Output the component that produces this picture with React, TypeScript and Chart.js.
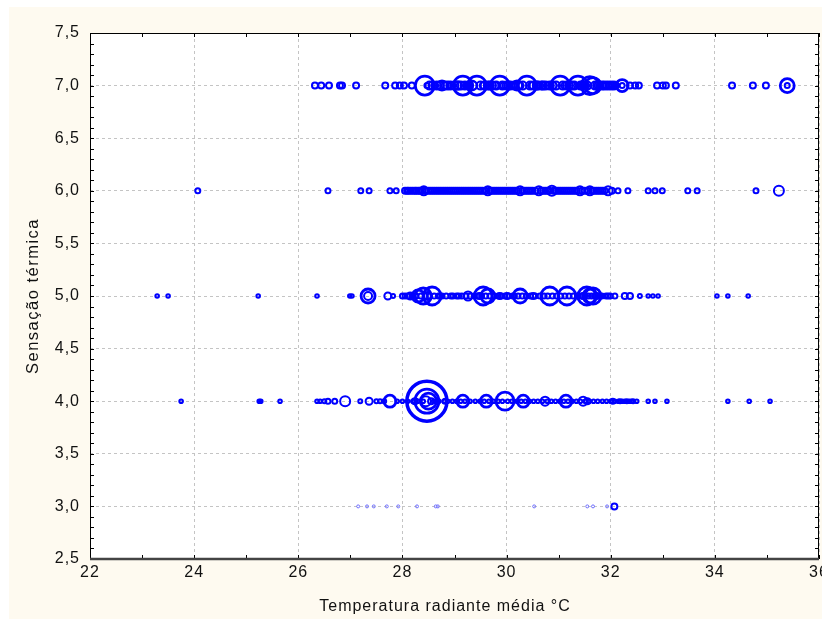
import React, { useEffect, useRef } from "react";
import { Chart, registerables } from "chart.js";

Chart.register(...registerables);

// Thermal sensation levels
const levels = [7, 6, 5, 4, 3];

// Row 7.0 : individually sized bubbles
const row7X = [26.32, 26.44, 26.59, 26.8, 26.84, 27.11, 27.67, 27.86, 27.95, 28.03, 28.18, 28.43, 28.47, 28.62, 28.76, 28.82, 28.95, 29.07, 29.16, 29.24, 29.33, 29.43, 29.55, 29.68, 29.78, 29.87, 29.95, 30.03, 30.12, 30.2, 30.26, 30.39, 30.48, 30.58, 30.64, 30.7, 30.8, 30.9, 31.03, 31.12, 31.2, 31.28, 31.37, 31.45, 31.52, 31.6, 31.66, 31.74, 31.79, 31.85, 31.91, 31.97, 32.02, 32.1, 32.22, 32.22, 32.37, 32.47, 32.54, 32.89, 33.0, 33.06, 33.25, 34.33, 34.73, 34.98, 35.39, 35.39];
const row7R = [3, 3, 3, 3, 3, 3, 3, 3, 3, 3, 3, 9.5, 2.5, 3.5, 5, 3.5, 3.5, 4, 9.5, 3.5, 5, 9.5, 3.5, 4, 3.5, 9.5, 3.5, 4, 3.5, 5, 3.5, 9.5, 3.5, 4, 3.5, 4, 3.5, 3.5, 9.5, 3.5, 4, 3.5, 9.5, 4, 3.5, 9, 8, 4, 3.5, 3.5, 3.5, 3.5, 3.5, 3, 6, 2.5, 3, 3, 3, 3, 3, 3, 3, 3, 3, 3, 7, 2.5];
// Row 7.0 : dense band of small bubbles
const row7BandX = [28.52, 28.58, 28.66, 28.72, 28.8, 28.86, 28.92, 29.0, 29.05, 29.12, 29.2, 29.28, 29.36, 29.5, 29.58, 29.64, 29.72, 29.8, 29.92, 30.0, 30.07, 30.15, 30.23, 30.31, 30.45, 30.52, 30.6, 30.67, 30.75, 30.83, 30.88, 30.95, 31.08, 31.16, 31.24, 31.3, 31.42, 31.48, 31.55, 31.7, 31.77, 31.83, 31.88, 31.94, 32.0, 32.06];
const row7BandR = 4;

// Row 6.0
const row6X = [24.07, 26.57, 27.2, 27.36, 27.76, 27.88, 28.41, 29.64, 30.26, 30.62, 30.87, 31.41, 31.6, 31.95, 32.14, 32.33, 32.72, 32.85, 32.99, 33.48, 33.66, 34.79, 35.23];
const row6R = [2.5, 2.5, 2.5, 2.5, 2.5, 2.5, 4.5, 4.5, 4.5, 4.5, 5, 4.5, 4.5, 4.5, 2.5, 2.5, 2.5, 2.5, 2.5, 2.5, 2.5, 2.5, 5];
const row6BandX = [28.05, 28.09, 28.12, 28.16, 28.2, 28.24, 28.27, 28.31, 28.34, 28.38, 28.45, 28.5, 28.54, 28.58, 28.62, 28.66, 28.7, 28.74, 28.78, 28.82, 28.86, 28.9, 28.94, 28.98, 29.02, 29.06, 29.1, 29.14, 29.18, 29.22, 29.26, 29.3, 29.34, 29.38, 29.42, 29.46, 29.5, 29.54, 29.59, 29.68, 29.72, 29.76, 29.8, 29.84, 29.88, 29.92, 29.96, 30.0, 30.04, 30.08, 30.12, 30.16, 30.2, 30.3, 30.34, 30.38, 30.42, 30.46, 30.5, 30.55, 30.66, 30.7, 30.74, 30.78, 30.82, 30.91, 30.95, 30.99, 31.03, 31.07, 31.11, 31.15, 31.19, 31.23, 31.27, 31.31, 31.35, 31.45, 31.5, 31.55, 31.64, 31.68, 31.72, 31.76, 31.8, 31.84, 31.88, 32.02];
const row6BandR = 3;

// Row 5.0
const row5X = [23.29, 23.5, 25.23, 26.36, 26.99, 27.03, 27.34, 27.34, 27.72, 27.82, 28.15, 28.3, 28.4, 28.48, 28.57, 28.72, 29.26, 29.48, 29.55, 29.64, 29.87, 30.01, 30.12, 30.26, 30.51, 30.83, 31.16, 31.47, 31.54, 31.6, 31.66, 31.72, 31.79, 31.95, 32.27, 32.37, 32.56, 32.72, 32.81, 32.91, 34.04, 34.25, 34.64];
const row5R = [1.8, 1.8, 1.8, 1.8, 1.8, 1.8, 7, 4, 3.5, 2, 3.5, 6, 8, 4, 9, 2.5, 4.5, 3, 9, 7, 3, 3, 2.5, 7, 3, 9, 9, 3, 9, 7, 8, 3, 2.5, 2.5, 3, 3, 2, 1.8, 1.8, 1.8, 1.8, 1.8, 1.8];
const row5BandX = [28.0, 28.05, 28.1, 28.19, 28.26, 28.35, 28.44, 28.52, 28.61, 28.69, 28.76, 28.84, 28.93, 28.97, 29.04, 29.08, 29.14, 29.22, 29.3, 29.38, 29.45, 29.52, 29.6, 29.68, 29.76, 29.84, 29.9, 29.97, 30.04, 30.15, 30.22, 30.3, 30.38, 30.46, 30.55, 30.64, 30.72, 30.79, 30.88, 30.96, 31.04, 31.12, 31.2, 31.28, 31.36, 31.44, 31.5, 31.57, 31.63, 31.69, 31.76, 31.83, 31.91, 31.99, 32.08];
const row5BandR = 2.5;

// Row 4.0
const row4X = [23.75, 25.25, 25.28, 25.65, 26.36, 26.42, 26.5, 26.57, 26.7, 26.9, 27.19, 27.36, 27.5, 27.57, 27.65, 27.76, 28.24, 28.47, 28.47, 28.5, 28.45, 28.55, 28.82, 29.16, 29.61, 29.97, 30.32, 30.74, 31.14, 31.47, 31.55, 32.04, 32.18, 32.31, 32.43, 32.72, 32.85, 33.08, 34.25, 34.66, 35.06];
const row4R = [1.8, 1.8, 1.8, 1.8, 1.8, 1.8, 2, 2.5, 2.5, 5, 2, 3.5, 2, 2, 2, 6, 3, 20, 12, 8, 5, 3, 2.5, 6, 6, 9, 6, 4.5, 6, 4.5, 3, 2.5, 2, 2, 2, 1.8, 1.8, 1.8, 1.8, 1.8, 1.8];
const row4BandX = [27.9, 28.0, 28.1, 28.2, 28.3, 28.4, 28.6, 28.7, 28.8, 28.87, 28.96, 29.04, 29.12, 29.2, 29.3, 29.4, 29.49, 29.57, 29.66, 29.75, 29.84, 29.92, 30.02, 30.1, 30.2, 30.28, 30.36, 30.44, 30.52, 30.6, 30.69, 30.78, 30.86, 30.94, 31.02, 31.1, 31.18, 31.26, 31.34, 31.42, 31.51, 31.59, 31.67, 31.75, 31.84, 31.92, 32.0, 32.08, 32.15, 32.22, 32.27, 32.36, 32.4, 32.5];
const row4BandR = 1.8;

// Row 3.0
const row3X = [32.07];
const row3R = [3];
const row3TinyX = [27.15, 27.32, 27.45, 27.7, 27.92, 28.28, 28.64, 28.68, 30.53, 31.55, 31.66, 31.93];
const row3TinyR = 1.5;

const xTicks = [22, 24, 26, 28, 30, 32, 34, 36];
const yTicks = [2.5, 3.0, 3.5, 4.0, 4.5, 5.0, 5.5, 6.0, 6.5, 7.0, 7.5];

const xTitle = "Temperatura radiante média °C";
const yTitle = "Sensação térmica";

const BLUE = "#0000ff";
const FONT = "'Liberation Sans', Arial, sans-serif";

function toPoints(xs: number[], rs: number[] | number, y: number) {
  return xs.map((x, i) => ({ x, y, r: Array.isArray(rs) ? rs[i] : rs }));
}

const framePlugin = {
  id: "frame",
  beforeDraw(chart: any) {
    const { ctx, width, height, chartArea } = chart;
    ctx.save();
    ctx.fillStyle = "#ffffff";
    ctx.fillRect(0, 0, width, height);
    ctx.fillStyle = "#fefaf0";
    ctx.fillRect(9, 7, width - 9, height - 7);
    ctx.fillStyle = "#ffffff";
    ctx.fillRect(chartArea.left, chartArea.top, chartArea.right - chartArea.left, chartArea.bottom - chartArea.top);
    ctx.restore();
    ctx.letterSpacing = "1px";
  },
  afterDraw(chart: any) {
    const { ctx, chartArea } = chart;
    const xs = chart.scales.x;
    const ys = chart.scales.y;
    const { left, right, top, bottom } = chartArea;
    ctx.save();
    ctx.letterSpacing = "0px";
    ctx.strokeStyle = "#000";
    ctx.lineWidth = 1;
    const tl = 4;
    ctx.beginPath();
    for (let v = 22; v <= 36; v += 1) {
      const px = Math.round(xs.getPixelForValue(v)) + 0.5;
      ctx.moveTo(px, top);
      ctx.lineTo(px, top + tl);
      ctx.moveTo(px, bottom);
      ctx.lineTo(px, bottom - tl);
    }
    for (let k = 25; k <= 75; k += 1) {
      const py = Math.round(ys.getPixelForValue(k / 10)) + 0.5;
      ctx.moveTo(left, py);
      ctx.lineTo(left + tl, py);
      ctx.moveTo(right, py);
      ctx.lineTo(right - tl, py);
    }
    ctx.stroke();
    ctx.strokeRect(left + 0.5, top + 0.5, right - left - 1, bottom - top - 1);
    ctx.strokeStyle = "#444";
    ctx.lineWidth = 2.5;
    ctx.beginPath();
    ctx.moveTo(left, bottom);
    ctx.lineTo(right, bottom);
    ctx.stroke();

    // axis titles
    ctx.fillStyle = "#111";
    ctx.textAlign = "center";
    ctx.textBaseline = "middle";
    ctx.letterSpacing = "1px";
    ctx.font = `16px ${FONT}`;
    ctx.fillText(xTitle, 445, 607);
    ctx.save();
    ctx.translate(33, 296);
    ctx.rotate(-Math.PI / 2);
    ctx.letterSpacing = "1.5px";
    ctx.font = `16.5px ${FONT}`;
    ctx.fillText(yTitle, 0, 0);
    ctx.restore();
    ctx.restore();
  },
};

export default function App() {
  const ref = useRef<HTMLCanvasElement>(null);
  useEffect(() => {
    if (!ref.current) return;
    const bw = (c: any) => {
      const r = c.raw ? c.raw.r : 2;
      return r >= 15 ? 3.5 : r >= 6 ? 2.8 : 2;
    };
    const series: [number[], number[] | number, number][] = [
      [row7BandX, row7BandR, levels[0]],
      [row7X, row7R, levels[0]],
      [row6BandX, row6BandR, levels[1]],
      [row6X, row6R, levels[1]],
      [row5BandX, row5BandR, levels[2]],
      [row5X, row5R, levels[2]],
      [row4BandX, row4BandR, levels[3]],
      [row4X, row4R, levels[3]],
      [row3X, row3R, levels[4]],
    ];
    const datasets: any[] = series.map(([xs, rs, y]) => ({
      data: toPoints(xs, rs, y),
      borderColor: BLUE,
      backgroundColor: "rgba(0,0,0,0)",
      borderWidth: bw,
    }));
    datasets.push({
      data: toPoints(row3TinyX, row3TinyR, levels[4]),
      borderColor: "#7070ff",
      backgroundColor: "rgba(0,0,0,0)",
      borderWidth: 1,
    });
    const chart = new Chart(ref.current, {
      type: "bubble",
      data: { datasets },
      plugins: [framePlugin],
      options: {
        responsive: false,
        animation: false,
        events: [],
        layout: { autoPadding: false, padding: { top: 33, right: 3, left: 0, bottom: 0 } },
        plugins: { legend: { display: false }, tooltip: { enabled: false } },
        scales: {
          x: {
            type: "linear",
            min: 22,
            max: 36,
            afterFit: (s: any) => { s.height = 60; s.paddingLeft = 0; s.paddingRight = 0; },
            afterBuildTicks: (s: any) => { s.ticks = xTicks.map((v) => ({ value: v })); },
            ticks: {
              autoSkip: false,
              maxRotation: 0,
              padding: 4,
              color: "#111",
              font: { family: FONT, size: 16 },
              callback: (v: any) => String(v),
            },
            grid: { color: "#c4c4c4", lineWidth: 1, drawTicks: false },
            border: { display: false, dash: [3, 3] },
          },
          y: {
            type: "linear",
            min: 2.5,
            max: 7.5,
            afterFit: (s: any) => { s.width = 90; s.paddingTop = 0; s.paddingBottom = 0; },
            afterBuildTicks: (s: any) => { s.ticks = yTicks.map((v) => ({ value: v })); },
            ticks: {
              autoSkip: false,
              padding: 10,
              color: "#111",
              font: { family: FONT, size: 16 },
              callback: (v: any) => Number(v).toFixed(1).replace(".", ","),
            },
            grid: { color: "#c4c4c4", lineWidth: 1, drawTicks: false },
            border: { display: false, dash: [3, 3] },
          },
        },
      },
    });
    return () => chart.destroy();
  }, []);
  return (
    <div style={{ position: "fixed", left: 0, top: 0, width: 822, height: 619, overflow: "hidden" }}>
      <canvas ref={ref} width={822} height={619} style={{ display: "block" }} />
    </div>
  );
}
